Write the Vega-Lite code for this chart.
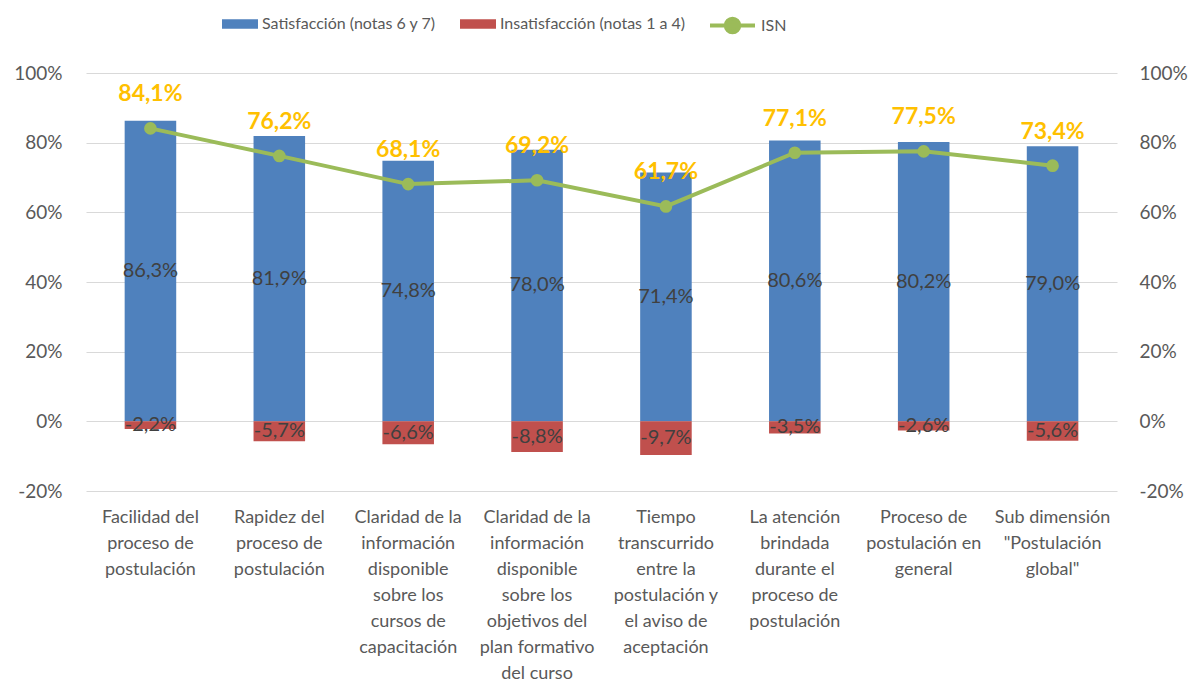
{
  "$schema": "https://vega.github.io/schema/vega-lite/v6.json",
  "width": 1031,
  "height": 418,
  "autosize": {"type": "none"},
  "padding": {"left": 86, "top": 73, "right": 78, "bottom": 190},
  "background": "#ffffff",
  "config": {
    "font": "Lato",
    "view": {"stroke": null},
    "axis": {"ticks": false, "domain": false, "labelColor": "#595959", "title": null}
  },
  "data": {
    "values": [
      {"cat": "Facilidad del|proceso de|postulación", "sat": 86.3, "insat": -2.2, "isn": 84.1},
      {"cat": "Rapidez del|proceso de|postulación", "sat": 81.9, "insat": -5.7, "isn": 76.2},
      {"cat": "Claridad de la|información|disponible|sobre los|cursos de|capacitación", "sat": 74.8, "insat": -6.6, "isn": 68.1},
      {"cat": "Claridad de la|información|disponible|sobre los|objetivos del|plan formativo|del curso", "sat": 78.0, "insat": -8.8, "isn": 69.2},
      {"cat": "Tiempo|transcurrido|entre la|postulación y|el aviso de|aceptación", "sat": 71.4, "insat": -9.7, "isn": 61.7},
      {"cat": "La atención|brindada|durante el|proceso de|postulación", "sat": 80.6, "insat": -3.5, "isn": 77.1},
      {"cat": "Proceso de|postulación en|general", "sat": 80.2, "insat": -2.6, "isn": 77.5},
      {"cat": "Sub dimensión|\"Postulación|global\"", "sat": 79.0, "insat": -5.6, "isn": 73.4}
    ]
  },
  "transform": [
    {"calculate": "datum.sat / 2", "as": "satMid"},
    {"calculate": "datum.insat / 2", "as": "insatMid"},
    {"calculate": "replace(format(datum.sat, '.1f'), '.', ',') + '%'", "as": "satLabel"},
    {"calculate": "'-' + replace(format(abs(datum.insat), '.1f'), '.', ',') + '%'", "as": "insatLabel"},
    {"calculate": "replace(format(datum.isn, '.1f'), '.', ',') + '%'", "as": "isnLabel"}
  ],
  "encoding": {
    "x": {
      "field": "cat",
      "type": "nominal",
      "sort": null,
      "scale": {"paddingInner": 0.6, "paddingOuter": 0.3},
      "axis": {
        "labelExpr": "split(datum.value, '|')",
        "labelAngle": 0,
        "labelFontSize": 18,
        "labelLineHeight": 26,
        "labelPadding": 17,
        "labelBaseline": "top",
        "labelLimit": 200
      }
    }
  },
  "layer": [
    {
      "mark": {"type": "bar"},
      "encoding": {
        "y": {
          "field": "sat",
          "type": "quantitative",
          "scale": {"domain": [-20, 100], "nice": false},
          "axis": {
            "orient": "left",
            "values": [-20, 0, 20, 40, 60, 80, 100],
            "labelExpr": "datum.value + '%'",
            "labelFontSize": 19,
            "labelPadding": 24,
            "grid": true,
            "gridColor": "#D9D9D9",
            "gridWidth": 1
          }
        },
        "color": {
          "datum": "Satisfacción (notas 6 y 7)",
          "type": "nominal",
          "scale": {
            "domain": ["Satisfacción (notas 6 y 7)", "Insatisfacción (notas 1 a 4)"],
            "range": ["#4F81BD", "#C0504D"]
          },
          "legend": {
            "orient": "none",
            "legendX": 136,
            "legendY": -67,
            "direction": "horizontal",
            "title": null,
            "symbolType": "M-1,-0.27H1V0.27H-1Z",
            "symbolSize": 1296,
            "symbolStrokeWidth": 0,
            "labelFontSize": 16,
            "labelLimit": 400,
            "labelColor": "#595959",
            "labelOffset": 4,
            "columnPadding": 24
          }
        }
      }
    },
    {
      "mark": {"type": "bar"},
      "encoding": {
        "y": {"field": "insat", "type": "quantitative", "scale": {"domain": [-20, 100], "nice": false}, "axis": null},
        "color": {"datum": "Insatisfacción (notas 1 a 4)", "type": "nominal"}
      }
    },
    {
      "mark": {"type": "text", "fontSize": 20, "color": "#404040", "baseline": "middle"},
      "encoding": {
        "y": {"field": "satMid", "type": "quantitative", "scale": {"domain": [-20, 100], "nice": false}, "axis": null},
        "text": {"field": "satLabel"}
      }
    },
    {
      "mark": {"type": "text", "fontSize": 20, "color": "#404040", "baseline": "middle"},
      "encoding": {
        "y": {"field": "insatMid", "type": "quantitative", "scale": {"domain": [-20, 100], "nice": false}, "axis": null},
        "text": {"field": "insatLabel"}
      }
    },
    {
      "mark": {"type": "line", "strokeWidth": 4},
      "encoding": {
        "y": {
          "field": "isn",
          "type": "quantitative",
          "scale": {"domain": [-20, 100], "nice": false},
          "axis": {
            "orient": "right",
            "values": [-20, 0, 20, 40, 60, 80, 100],
            "labelExpr": "datum.value + '%'",
            "labelFontSize": 19,
            "labelPadding": 22,
            "grid": false
          }
        },
        "stroke": {
          "datum": "ISN",
          "type": "nominal",
          "scale": {"domain": ["ISN"], "range": ["#9BBB59"]},
          "legend": {
            "orient": "none",
            "legendX": 622,
            "legendY": -72,
            "title": null,
            "symbolType": "M-1,0H1M-0.3,0A0.3,0.3 0 1,1 0.3,0A0.3,0.3 0 1,1 -0.3,0Z",
            "symbolSize": 2025,
            "symbolStrokeWidth": 4,
            "symbolFillColor": "#9BBB59",
            "labelFontSize": 16,
            "labelColor": "#595959",
            "labelOffset": 4,
            "encode": {"symbols": {"update": {"fill": {"value": "#9BBB59"}}}}
          }
        }
      }
    },
    {
      "mark": {"type": "point", "filled": true, "size": 160, "color": "#9BBB59", "opacity": 1},
      "encoding": {
        "y": {"field": "isn", "type": "quantitative", "scale": {"domain": [-20, 100], "nice": false}, "axis": null}
      }
    },
    {
      "mark": {"type": "text", "fontSize": 23, "fontWeight": "bold", "color": "#FFC000", "baseline": "middle", "dy": -34},
      "encoding": {
        "y": {"field": "isn", "type": "quantitative", "scale": {"domain": [-20, 100], "nice": false}, "axis": null},
        "text": {"field": "isnLabel"}
      }
    }
  ],
  "resolve": {"scale": {"y": "independent"}}
}
